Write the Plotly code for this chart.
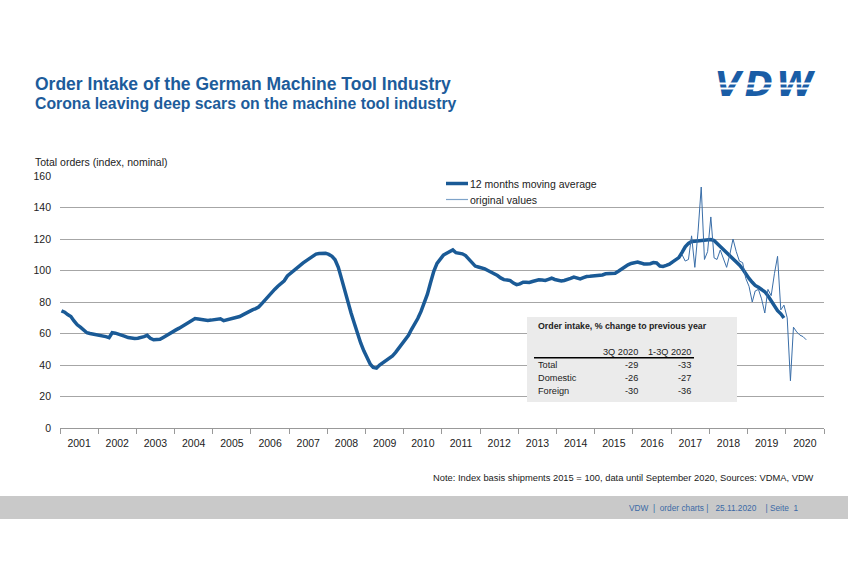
import plotly.graph_objects as go
import pandas as pd

# ---------------- data ----------------
ma_2001 = [74.4, 73.5, 72.0, 70.8, 68.0, 65.5, 64.0, 62.2, 60.5, 60.0, 59.7, 59.3]
ma_2002 = [59.0, 58.5, 58.0, 57.4, 60.5, 60.2, 59.6, 59.2, 58.2, 57.4, 56.8, 56.8]
ma_2003 = [57.0, 57.3, 58.0, 58.8, 57.0, 56.0, 56.0, 56.3, 57.5, 58.8, 60.2, 61.2]
ma_2004 = [62.3, 63.4, 64.5, 65.5, 66.6, 67.8, 69.5, 69.2, 68.8, 68.4, 68.3, 68.5]
ma_2005 = [68.7, 69.0, 69.3, 68.1, 68.6, 69.3, 69.8, 70.3, 70.8, 71.8, 73.0, 74.0]
ma_2006 = [75.0, 75.8, 76.8, 79.0, 81.4, 83.8, 86.0, 88.0, 90.0, 92.0, 93.5, 96.5]
ma_2007 = [98.3, 99.8, 101.5, 103.0, 104.8, 106.3, 107.8, 109.3, 110.4, 110.8, 111.0, 111.0]
ma_2008 = [110.2, 109.0, 106.8, 102.0, 95.0, 87.0, 80.0, 73.0, 66.5, 60.0, 54.0, 49.0]
ma_2009 = [45.0, 40.5, 38.5, 38.0, 40.0, 41.5, 42.8, 44.0, 45.8, 48.0, 50.5, 53.5]
ma_2010 = [56.0, 58.8, 62.5, 65.8, 69.5, 74.0, 79.0, 85.0, 92.5, 99.5, 104.5, 107.5]
ma_2011 = [109.8, 111.0, 112.3, 113.1, 111.3, 111.0, 110.6, 109.5, 107.5, 105.0, 102.8, 102.2]
ma_2012 = [101.8, 101.0, 100.0, 99.0, 98.2, 96.8, 95.3, 94.2, 94.0, 93.6, 92.0, 91.0]
ma_2013 = [91.5, 92.6, 92.5, 92.4, 93.0, 93.6, 94.1, 93.9, 93.7, 94.4, 95.1, 94.3]
ma_2014 = [93.6, 93.4, 93.7, 94.1, 95.0, 95.8, 95.2, 94.7, 95.5, 96.2, 96.3, 96.4]
ma_2015 = [96.5, 96.6, 97.2, 97.9, 97.9, 97.9, 98.2, 99.5, 101.0, 102.3, 103.6, 104.5]
ma_2016 = [105.0, 105.3, 104.8, 104.2, 104.2, 104.3, 105.0, 104.8, 102.8, 102.6, 103.2, 104.0]
ma_2017 = [105.5, 106.8, 108.2, 111.5, 115.0, 117.2, 118.4, 118.6, 118.8, 119.2, 119.6, 119.9]
ma_2018 = [119.6, 119.0, 117.2, 115.5, 114.0, 111.8, 109.8, 107.8, 105.5, 103.5, 101.0, 97.5]
ma_2019 = [95.0, 92.5, 90.5, 89.3, 88.2, 86.5, 84.0, 81.0, 77.5, 74.5, 72.5, 69.8]

ma_values = (ma_2001 + ma_2002 + ma_2003 + ma_2004 + ma_2005 + ma_2006 + ma_2007
             + ma_2008 + ma_2009 + ma_2010 + ma_2011 + ma_2012 + ma_2013 + ma_2014
             + ma_2015 + ma_2016 + ma_2017 + ma_2018 + ma_2019)
ma_start = "2001-01-01"

orig_2017 = [110, 106, 107, 122, 102, 125, 153, 107, 112]          # Apr-Dec
orig_2018 = [134, 108, 107, 113, 108, 102, 110, 120, 112, 106, 105, 95]
orig_2019 = [90, 80, 87, 88, 82, 73, 88, 84, 98, 109, 75, 78]
orig_2020 = [70, 30, 64, 61, 59, 58, 56]                            # Jan-Jul
orig_values = orig_2017 + orig_2018 + orig_2019 + orig_2020
orig_start = "2017-04-01"

series_names = ["12 months moving average", "original values"]

table_title = "Order intake, % change to previous year"
table_cols = ["3Q 2020", "1-3Q 2020"]
table_rows = ["Total", "Domestic", "Foreign"]
table_q3 = [-29, -26, -30]
table_ytd = [-33, -27, -36]

title = "Order Intake of the German Machine Tool Industry"
subtitle = "Corona leaving deep scars on the machine tool industry"
y_title = "Total orders (index, nominal)"
note = "Note: Index basis shipments 2015 = 100, data until September 2020, Sources: VDMA, VDW"
footer = "VDW\u00a0\u00a0|\u00a0\u00a0order charts\u00a0|\u00a0\u00a0\u00a025.11.2020\u00a0\u00a0\u00a0\u00a0|\u00a0Seite\u00a0\u00a01"

# ---------------- styling ----------------
FONT = "Arial, Liberation Sans, sans-serif"
BLUE_T = "#1d5c9b"
MA_COLOR = "#1a5a96"
ORIG_COLOR = "#3a6ea8"
GRID = "#a6a6a6"

W, H = 848, 565
L, R, T, B = 60, 24, 176, 137
PW, PH = W - L - R, H - T - B


def PX(x):
    return (x - L) / PW


def PY(y):
    return (H - B - y) / PH


ma_dates = pd.date_range(ma_start, periods=len(ma_values), freq="MS") + pd.Timedelta(days=14)
orig_dates = pd.date_range(orig_start, periods=len(orig_values), freq="MS") + pd.Timedelta(days=14)

fig = go.Figure()
fig.add_trace(go.Scatter(x=ma_dates, y=ma_values, mode="lines", name=series_names[0],
                         line=dict(color=MA_COLOR, width=3.5)))
fig.add_trace(go.Scatter(x=orig_dates, y=orig_values, mode="lines", name=series_names[1],
                         line=dict(color=ORIG_COLOR, width=1)))

annotations = []
shapes = []

# titles
annotations.append(dict(text="<b>" + title + "</b>", x=PX(33), y=PY(84), xref="paper", yref="paper",
                        xanchor="left", yanchor="middle", showarrow=False,
                        font=dict(family=FONT, size=17.5, color=BLUE_T)))
annotations.append(dict(text="<b>" + subtitle + "</b>", x=PX(33), y=PY(104), xref="paper", yref="paper",
                        xanchor="left", yanchor="middle", showarrow=False,
                        font=dict(family=FONT, size=15.8, color=BLUE_T)))
# logo
annotations.append(dict(text="<b><i>V\u200aD\u200aW</i></b>", x=PX(765), y=PY(84.5), xref="paper", yref="paper",
                        xanchor="center", yanchor="middle", showarrow=False,
                        font=dict(family="DejaVu Sans", size=34, color="#1a5da6")))
for yy in (84, 88.5):
    annotations.append(dict(text=" ", x=PX(765), y=PY(yy), xref="paper", yref="paper",
                            xanchor="center", yanchor="middle", showarrow=False,
                            width=112, height=1, bgcolor="white", borderpad=0,
                            font=dict(size=1)))
# legend (manual, compact like the reference)
legend_y = [183.5, 199.5]
legend_w = [3.5, 1.2]
legend_c = [MA_COLOR, "#7ea3c9"]
for ly, lw, lc, nm in zip(legend_y, legend_w, legend_c, series_names):
    shapes.append(dict(type="line", xref="paper", yref="paper", x0=PX(446), x1=PX(468),
                       y0=PY(ly), y1=PY(ly), line=dict(color=lc, width=lw), layer="above"))
    annotations.append(dict(text=nm, x=PX(467.5), y=PY(ly), xref="paper", yref="paper",
                            xanchor="left", yanchor="middle", showarrow=False,
                            font=dict(family=FONT, size=10.5, color="#222222")))
# y title
annotations.append(dict(text=y_title, x=PX(33), y=PY(161.5), xref="paper", yref="paper",
                        xanchor="left", yanchor="middle", showarrow=False,
                        font=dict(family=FONT, size=10.5, color="#222222")))
# note
annotations.append(dict(text=note, x=PX(816), y=PY(478), xref="paper", yref="paper",
                        xanchor="right", yanchor="middle", showarrow=False,
                        font=dict(family=FONT, size=9.35, color="#1a1a1a")))
# footer band
shapes.append(dict(type="rect", xref="paper", yref="paper", x0=PX(0), x1=PX(W), y0=PY(519), y1=PY(496),
                   fillcolor="#c9c9c9", line=dict(width=0), layer="above"))
annotations.append(dict(text=footer, x=PX(800), y=PY(508), xref="paper", yref="paper",
                        xanchor="right", yanchor="middle", showarrow=False,
                        font=dict(family=FONT, size=8.3, color="#3b6aa6")))

# table box
shapes.append(dict(type="rect", xref="paper", yref="paper", x0=PX(527), x1=PX(737), y0=PY(402), y1=PY(317),
                   fillcolor="#ebebeb", line=dict(width=0), layer="above"))
shapes.append(dict(type="line", xref="paper", yref="paper", x0=PX(534), x1=PX(694), y0=PY(357.7), y1=PY(357.7),
                   line=dict(color="black", width=1.6), layer="above"))
annotations.append(dict(text="<b>" + table_title + "</b>", x=PX(535.5), y=PY(325.7), xref="paper", yref="paper",
                        xanchor="left", yanchor="middle", showarrow=False,
                        font=dict(family=FONT, size=8.8, color="#222222")))
col_x = [639.5, 692.5]
for cx, ct in zip(col_x, table_cols):
    annotations.append(dict(text=ct, x=PX(cx), y=PY(351.5), xref="paper", yref="paper",
                            xanchor="right", yanchor="middle", showarrow=False,
                            font=dict(family=FONT, size=9.2, color="#222222")))
row_y = [365, 378.3, 391]
for ry, rn, v1, v2 in zip(row_y, table_rows, table_q3, table_ytd):
    annotations.append(dict(text=rn, x=PX(535.5), y=PY(ry), xref="paper", yref="paper",
                            xanchor="left", yanchor="middle", showarrow=False,
                            font=dict(family=FONT, size=9.2, color="#222222")))
    for cx, v in zip(col_x, (v1, v2)):
        annotations.append(dict(text=str(v), x=PX(cx), y=PY(ry), xref="paper", yref="paper",
                                xanchor="right", yanchor="middle", showarrow=False,
                                font=dict(family=FONT, size=9.2, color="#222222")))

fig.update_layout(
    width=W, height=H,
    margin=dict(l=L, r=R, t=T, b=B, pad=0),
    paper_bgcolor="white", plot_bgcolor="white",
    font=dict(family=FONT, color="#222222"),
    showlegend=False,
    annotations=annotations,
    shapes=shapes,
    xaxis=dict(type="date", range=["2001-01-01", "2021-01-01"], dtick="M12", tick0="2001-01-01",
               ticklabelmode="period", tickformat="%Y", ticks="outside", ticklen=5,
               tickcolor="#999999", showline=True, linecolor="#999999", linewidth=1,
               showgrid=False, zeroline=False,
               tickfont=dict(family=FONT, size=10.5, color="#222222")),
    yaxis=dict(range=[0, 160], dtick=20, tick0=0, showgrid=True, gridcolor=GRID, gridwidth=1,
               zeroline=False, showline=False, ticks="", ticklabelstandoff=8,
               tickfont=dict(family=FONT, size=10.5, color="#222222")),
)

fig.write_html("out.html")
